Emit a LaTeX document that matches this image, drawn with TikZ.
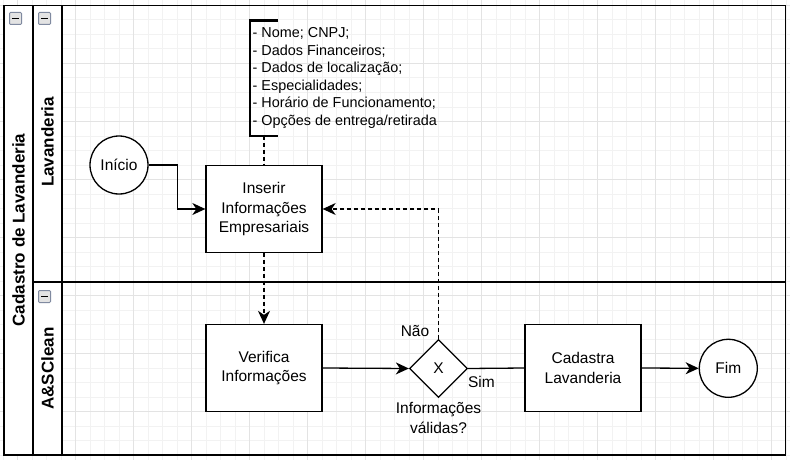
\documentclass[tikz,border=0pt]{standalone}
\usepackage{fontspec}
\setmainfont{Liberation Sans}
\usepackage{tikz}
\usetikzlibrary{shapes.geometric, arrows.meta, positioning}

\begin{document}
\begin{tikzpicture}[
        x=1pt, y=-1pt,
        font=\fontsize{15.5}{19.5}\selectfont,
        task/.style={rectangle, draw, line width=1.3pt, fill=white, minimum width=116pt, minimum height=87pt, align=center},
        event/.style={circle, draw, line width=1.3pt, fill=white, minimum size=58pt, inner sep=0pt},
        gateway/.style={diamond, draw, line width=1.3pt, fill=white, minimum width=58pt, minimum height=58pt, inner sep=0pt},
        collapse/.style={rectangle, rounded corners=1pt, draw={rgb,255:red,128;green,138;blue,160}, line width=1pt, fill=gray!22, minimum size=12pt, inner sep=0pt},
        lanetitle/.style={rotate=90, font=\fontsize{17}{20}\selectfont\bfseries},
        arrow/.style={-{Stealth[length=13pt, width=12pt, inset=4pt]}, line width=1.3pt},
        flow/.style={line width=1.3pt},
        dashline/.style={line width=1.3pt, dash pattern=on 4pt off 3pt}
    ]
    \useasboundingbox (0,0) rectangle (790,460);
    \fill[white] (0,0) rectangle (790,460);

    % Grid
    \foreach \x in {2.8,17.3,...,790} {
            \draw[gray!10, line width=0.6pt] (\x,0) -- (\x,460);
        }
    \foreach \y in {5.3,19.8,...,460} {
            \draw[gray!10, line width=0.6pt] (0,\y) -- (790,\y);
        }
    \foreach \x in {17.3,75.3,...,790} {
            \draw[gray!22, line width=0.8pt] (\x,0) -- (\x,460);
        }
    \foreach \y in {5.3,63.3,...,460} {
            \draw[gray!22, line width=0.8pt] (0,\y) -- (790,\y);
        }

    % Pool and lanes
    \fill[white] (4,5.5) rectangle (62,455);
    \draw[line width=1.6pt] (4,5.5) rectangle (785.5,455);
    \draw[line width=1.6pt] (33,5.5) -- (33,455);
    \draw[line width=1.6pt] (62,5.5) -- (62,455);
    \draw[line width=1.6pt] (33,282) -- (785.5,282);
    \node[collapse] (cpool) at (15.5,18.5) {\rule[0pt]{7pt}{1.8pt}};
    \node[collapse] (clane1) at (44.5,18.5) {\rule[0pt]{7pt}{1.8pt}};
    \node[collapse] (clane2) at (44.5,296.5) {\rule[0pt]{7pt}{1.8pt}};
    \node[lanetitle] (pool) at (18.5,230) {Cadastro de Lavanderia};
    \node[lanetitle] (lane1) at (47.5,142) {Lavanderia};
    \node[lanetitle] (lane2) at (47.5,368.5) {A\&SClean};

    % Annotation
    \draw[line width=2.6pt] (278,20.7) -| (250,136) -- (278,136);
    \coordinate (annot) at (264,136);
    \node[anchor=west, align=left, inner sep=0pt, font=\fontsize{14.4}{17.5}\selectfont] (notes) at (252.5,78) {- Nome; CNPJ;\\- Dados Financeiros;\\- Dados de localização;\\- Especialidades;\\- Horário de Funcionamento;\\- Opções de entrega/retirada};

    % Lane Lavanderia
    \node[event] (inicio) at (119,165) {Início};
    \node[task] (inserir) at (264,209) {Inserir\\Informações\\Empresariais};

    % Lane A&SClean
    \node[task] (verifica) at (264,368) {Verifica\\Informações};
    \node[gateway] (gw) at (438.5,368.5) {X};
    \node[task] (cadastra) at (583,368) {Cadastra\\Lavanderia};
    \node[event] (fim) at (728.3,368.3) {Fim};
    \node (nao) at (415,331) {Não};
    \node (sim) at (481.5,382) {Sim};
    \node[align=center, below=1pt of gw] (valid) {Informações\\válidas?};

    % Connectors
    \draw[dashline] (annot) -- (inserir.north);
    \draw[arrow] (inicio.east) -- ++(29,0) |- (inserir.west);
    \draw[arrow, dashline] (inserir.south) -- (verifica.north);
    \draw[arrow] (verifica.east) -- (gw.west);
    \draw[arrow, dashline] (gw.north) |- (inserir.east);
    \draw[flow] (gw.east) -- (cadastra.west);
    \draw[arrow] (cadastra.east) -- (fim.west);
\end{tikzpicture}
\end{document}
